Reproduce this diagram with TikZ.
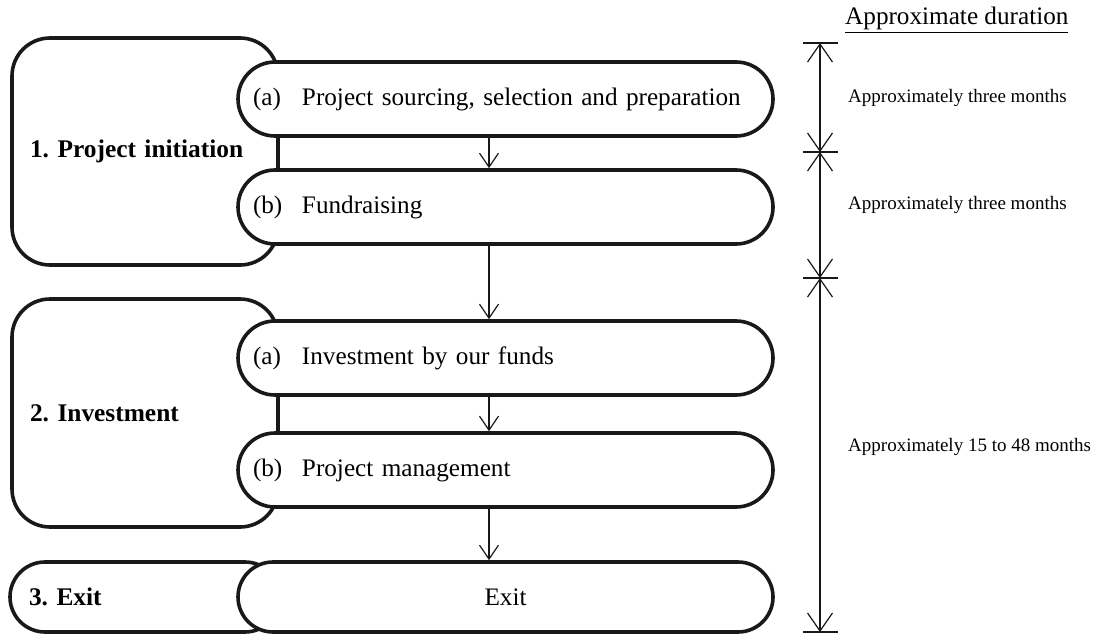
\documentclass[tikz,border=0pt]{standalone}
\usepackage{fontspec}
\setmainfont{Liberation Serif}
\usetikzlibrary{arrows.meta}
\frenchspacing

\tikzset{
  bigfont/.style={font=\fontsize{25.2}{30}\selectfont},
  smallfont/.style={font=\fontsize{19}{23}\selectfont},
  phase/.style={draw=black!90, line width=3.6pt, fill=white, rounded corners=38pt,
    inner xsep=18pt, align=left, font=\fontsize{25.4}{30}\selectfont\bfseries},
  stage/.style={draw=black!90, line width=3.6pt, fill=white, rounded corners=37pt,
    minimum width=535pt, minimum height=74pt, text width=505pt, inner xsep=15pt,
    align=left, bigfont},
  flow/.style={line width=1.2pt, draw=black!90, -{Straight Barb[length=14pt,width=19pt,line width=1.2pt]}},
  span/.style={line width=1.2pt, draw=black!90,
    {Straight Barb[length=18pt,width=25pt,line width=1.2pt]}-{Straight Barb[length=18pt,width=25pt,line width=1.2pt]}},
  tick/.style={line width=1.2pt, draw=black!90}
}
\newcommand{\tag}[1]{\makebox[49pt][l]{#1}}

\begin{document}
\begin{tikzpicture}[x=1pt, y=-1pt]
  \useasboundingbox (0,0) rectangle (1097,634);

  % phase frames
  \node[phase, minimum width=266pt, minimum height=227pt, text width=230pt] (ph1) at (145,151.5) {1. Project initiation};
  \node[phase, minimum width=266pt, minimum height=228pt, text width=230pt] (ph2) at (145,413) {2. Investment};
  \node[phase, minimum width=270pt, minimum height=70pt, text width=232pt, rounded corners=35pt] (ph3) at (145,597) {3. Exit};

  % process steps
  \node[stage] (s1a) at (505.5,99) {\tag{(a)}Project sourcing, selection and preparation};
  \node[stage] (s1b) at (505.5,207) {\tag{(b)}Fundraising};
  \node[stage] (s2a) at (505.5,358) {\tag{(a)}Investment by our funds};
  \node[stage] (s2b) at (505.5,470) {\tag{(b)}Project management};
  \node[stage, minimum height=70pt, rounded corners=35pt, align=center] (s3) at (505.5,597) {Exit};

  % flow between steps
  \coordinate (ax) at (489,0);
  \draw[flow] (s1a.south -| ax) -- (s1b.north -| ax);
  \draw[flow] (s1b.south -| ax) -- (s2a.north -| ax);
  \draw[flow] (s2a.south -| ax) -- (s2b.north -| ax);
  \draw[flow] (s2b.south -| ax) -- (s3.north -| ax);

  % duration scale
  \node[bigfont, anchor=base west, inner sep=0pt] (durhead) at (845,25) {\underline{Approximate duration}};
  \coordinate (t0) at (820,43);
  \coordinate (t1) at (820,152);
  \coordinate (t2) at (820,278);
  \coordinate (t3) at (820,632);
  \foreach \t in {t0,t1,t2,t3} \draw[tick] ([xshift=-17pt]\t) -- ([xshift=18pt]\t);
  \draw[span] (t0) -- (t1);
  \draw[span] (t1) -- (t2);
  \draw[span] (t2) -- (t3);
  \node[smallfont, anchor=west, inner sep=0pt] (d1) at (848,98) {Approximately three months};
  \node[smallfont, anchor=west, inner sep=0pt] (d2) at (848,205) {Approximately three months};
  \node[smallfont, anchor=west, inner sep=0pt] (d3) at (848,447) {Approximately 15 to 48 months};
\end{tikzpicture}
\end{document}
